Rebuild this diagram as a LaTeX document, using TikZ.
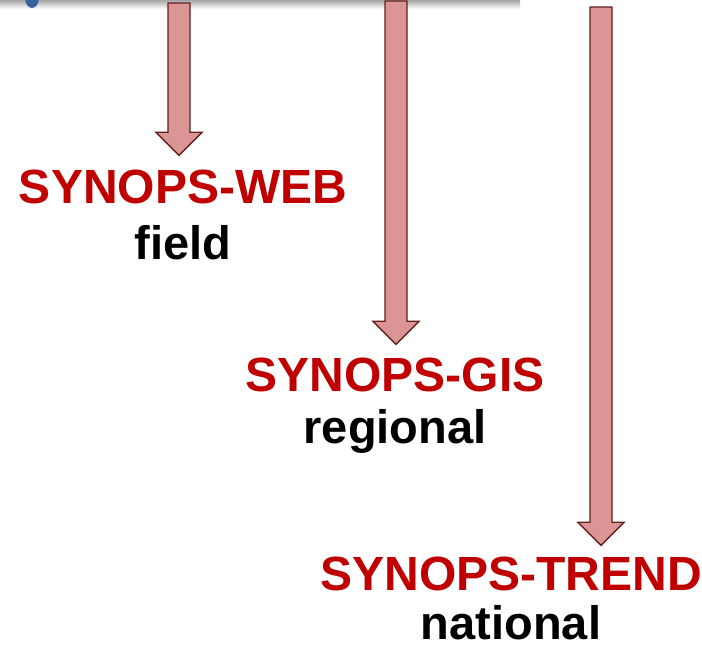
\documentclass[tikz,border=0pt]{standalone}
\usepackage{fontspec}
\setmainfont{Liberation Sans}
\usepackage{xcolor}
\definecolor{synred}{RGB}{192,0,0}
\definecolor{arrowpink}{RGB}{219,149,148}
\definecolor{arrowdark}{RGB}{99,30,30}
\definecolor{cornerblue}{RGB}{54,96,158}
\usetikzlibrary{calc, positioning}

% block arrow from a top coordinate down to a tip coordinate
\newcommand{\blockdown}[2]{%
  \draw[blockarrow] ($(#1)+(-11,0)$) -- ($(#2)+(-11,-23)$) -- ($(#2)+(-23,-23)$)
    -- (#2) -- ($(#2)+(23,-23)$) -- ($(#2)+(11,-23)$) -- ($(#1)+(11,0)$) -- cycle;}

\begin{document}
\begin{tikzpicture}[x=1pt, y=-1pt,
    blockarrow/.style={draw=arrowdark, fill=arrowpink, line width=1.4pt, line join=miter},
    toolname/.style={font=\fontsize{48}{56}\selectfont\bfseries, text=synred, inner sep=0pt, anchor=base},
    level/.style={font=\fontsize{47}{56}\selectfont\bfseries, text=black, inner sep=0pt, anchor=base}]

\useasboundingbox (0,0) rectangle (702,648);

% shadow of the box above and the corner mark
\shade[top color=black!35, bottom color=white] (0,0) rectangle (520,9);
\fill[cornerblue] (32,-2) ellipse (7 and 10);

% tool names and their levels
\node[toolname] (web) at (183,203) {SYNOPS-WEB};
\node[level] (field) at ([yshift=-56pt]web.base) {field};

\node[toolname] (gis) at (395,391) {SYNOPS-GIS};
\node[level] (regional) at ([yshift=-52pt]gis.base) {regional};

\node[toolname] (trend) at (511,590) {SYNOPS-TREND};
\node[level] (national) at ([yshift=-49pt]trend.base) {national};

% arrows
\coordinate (src1) at (179,3);
\coordinate (src2) at (396,1);
\coordinate (src3) at (601,7);
\coordinate (tip1) at ([yshift=14pt]src1 |- web.north);
\coordinate (tip2) at ([yshift=13pt]src2 |- gis.north);
\coordinate (tip3) at ([yshift=11pt]src3 |- trend.north);
\blockdown{src1}{tip1}
\blockdown{src2}{tip2}
\blockdown{src3}{tip3}

\end{tikzpicture}
\end{document}
